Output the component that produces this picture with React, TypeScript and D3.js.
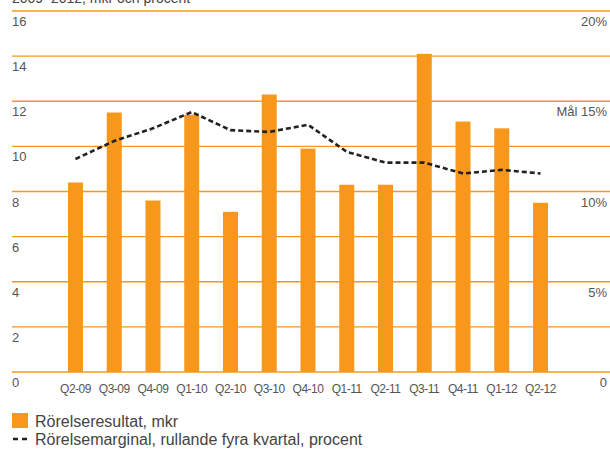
import { useMemo } from 'react';
import { scaleBand, scaleLinear, line, curveLinear } from 'd3';

const width = 610;
const height = 449;

// quarters on the x axis
const quarters = [
  'Q2-09', 'Q3-09', 'Q4-09', 'Q1-10', 'Q2-10', 'Q3-10', 'Q4-10',
  'Q1-11', 'Q2-11', 'Q3-11', 'Q4-11', 'Q1-12', 'Q2-12',
];
// Rörelseresultat, mkr
const result = [8.4, 11.5, 7.6, 11.4, 7.1, 12.3, 9.9, 8.3, 8.3, 14.1, 11.1, 10.8, 7.5];
// Rörelsemarginal, rullande fyra kvartal, procent
const margin = [11.8, 12.8, 13.5, 14.4, 13.4, 13.3, 13.7, 12.2, 11.6, 11.6, 11.0, 11.2, 11.0];

const leftTicks = [0, 2, 4, 6, 8, 10, 12, 14, 16];
const rightTicks = [0, 5, 10, 15, 20];
const rightLabels = ['0', '5%', '10%', 'Mål 15%', '20%'];

const orange = '#F7981D';
const textColor = '#555';
const font = '"Liberation Sans", Arial, sans-serif';

export default function App() {
  const y = useMemo(() => scaleLinear().domain([0, 16]).range([372, 11]), []);
  const yPct = useMemo(() => scaleLinear().domain([0, 20]).range([372, 11]), []);
  const x = useMemo(
    () =>
      scaleBand<string>()
        .domain(quarters)
        .range([56.1, 559.9])
        .paddingInner(0.613)
        .paddingOuter(0.3065),
    []
  );

  const linePath = line<number>()
    .x((_, i) => (x(quarters[i]) ?? 0) + x.bandwidth() / 2)
    .y((d) => yPct(d))
    .curve(curveLinear)(margin);

  return (
    <svg
      width={width}
      height={height}
      style={{ position: 'absolute', left: 0, top: 0, background: '#fff' }}
      fontFamily={font}
    >
      {/* title, cut at the top edge as in the original */}
      <text x={12} y={3} fontSize={14} fill="#444">
        2009–2012, mkr och procent
      </text>

      {/* grid lines */}
      {leftTicks.map((t) => (
        <line key={t} x1={12} x2={610} y1={y(t)} y2={y(t)} stroke={orange} strokeWidth={1.4} />
      ))}

      {/* left axis labels */}
      {leftTicks.map((t) => (
        <text key={t} x={12} y={y(t) + 15} fontSize={13} fill={textColor}>
          {t}
        </text>
      ))}

      {/* right axis labels */}
      {rightTicks.map((t, i) => (
        <text key={t} x={607} y={yPct(t) + 15} fontSize={13} fill={textColor} textAnchor="end">
          {rightLabels[i]}
        </text>
      ))}

      {/* bars */}
      {result.map((v, i) => (
        <rect
          key={quarters[i]}
          x={x(quarters[i])}
          y={y(v)}
          width={x.bandwidth()}
          height={y(0) - y(v)}
          fill={orange}
        />
      ))}

      {/* x labels */}
      {quarters.map((q) => (
        <text
          key={q}
          x={(x(q) ?? 0) + x.bandwidth() / 2}
          y={393}
          fontSize={12}
          fill={textColor}
          textAnchor="middle"
          letterSpacing={-0.5}
        >
          {q}
        </text>
      ))}

      {/* margin line */}
      <path d={linePath ?? ''} fill="none" stroke="#222" strokeWidth={2.6} strokeDasharray="5,3" />

      {/* legend */}
      <rect x={12} y={413} width={16} height={15} fill={orange} />
      <text x={35} y={427} fontSize={16} fill="#444">
        Rörelseresultat, mkr
      </text>
      <line x1={13} x2={27} y1={439} y2={439} stroke="#222" strokeWidth={2.6} strokeDasharray="5,4" />
      <text x={35} y={445} fontSize={16} fill="#444">
        Rörelsemarginal, rullande fyra kvartal, procent
      </text>
    </svg>
  );
}
